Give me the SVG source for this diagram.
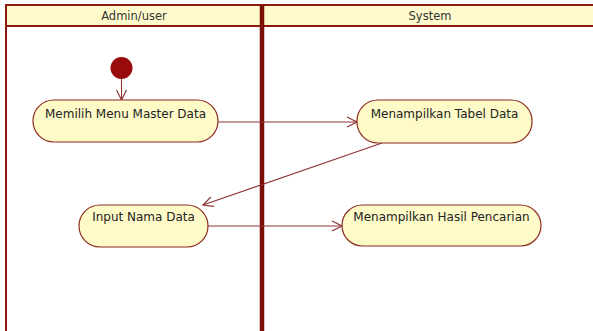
<svg xmlns="http://www.w3.org/2000/svg" width="593" height="331" viewBox="0 0 593 331">
<defs>
<style>
.lane{fill:#fffbcc;stroke:#8b1a10;stroke-width:2}
.hdr{font-family:"DejaVu Sans",Verdana,sans-serif;font-size:11.5px;fill:#333;text-anchor:middle}
.node rect{fill:#fffbc8;stroke:#8b2a20;stroke-width:1.2}
.node text{font-family:"DejaVu Sans",Verdana,sans-serif;font-size:12px;fill:#222;text-anchor:middle}
.edge{stroke:#8e3535;stroke-width:1.1;fill:none;marker-end:url(#arr)}
</style>
<marker id="arr" viewBox="0 0 12 12" refX="11" refY="6" markerWidth="12" markerHeight="12" markerUnits="userSpaceOnUse" orient="auto">
<path d="M1,1 L11,6 L1,11" fill="none" stroke="#8e3535" stroke-width="1.2"/>
</marker>
</defs>
<rect width="593" height="331" fill="#ffffff"/>
<g id="lanes">
<rect class="lane" x="6" y="5" width="600" height="21"/>
<line x1="6" y1="5" x2="6" y2="331" stroke="#8b1a10" stroke-width="2"/>
<line x1="262" y1="5" x2="262" y2="331" stroke="#7a0f05" stroke-width="4.5"/>
<text class="hdr" x="134" y="20">Admin/user</text>
<text class="hdr" x="430" y="20">System</text>
</g>
<g id="connectors">
<line class="edge" x1="121.5" y1="79" x2="121.5" y2="100"/>
<line class="edge" x1="218" y1="122" x2="357" y2="122"/>
<line class="edge" x1="382" y1="143" x2="203" y2="205"/>
<line class="edge" x1="208" y1="226" x2="342" y2="226"/>
</g>
<g id="start">
<circle cx="121.5" cy="68" r="11" fill="#990a0a"/>
</g>
<g id="n1" class="node">
<rect x="33" y="100" width="185" height="42" rx="21"/>
<text x="125.5" y="118">Memilih Menu Master Data</text>
</g>
<g id="n2" class="node">
<rect x="357" y="100" width="175" height="43" rx="21"/>
<text x="444.5" y="118">Menampilkan Tabel Data</text>
</g>
<g id="n3" class="node">
<rect x="79" y="205" width="129" height="42" rx="21"/>
<text x="143.5" y="221">Input Nama Data</text>
</g>
<g id="n4" class="node">
<rect x="342" y="205" width="199" height="41" rx="20.5"/>
<text x="441.5" y="221">Menampilkan Hasil Pencarian</text>
</g>
</svg>
